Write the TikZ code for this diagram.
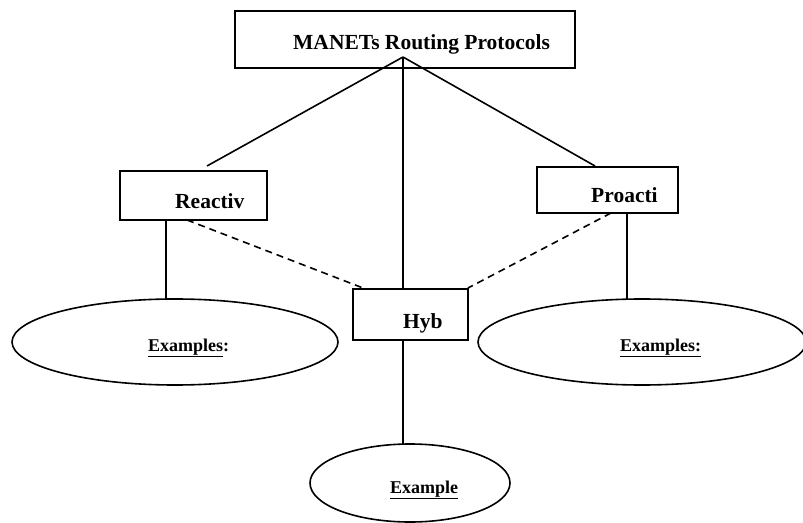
\documentclass[tikz,border=0pt]{standalone}
\usepackage{fontspec}
\setmainfont{Liberation Serif}
\usetikzlibrary{shapes.geometric,calc}
\begin{document}
\begin{tikzpicture}[x=1bp,y=-1bp,
  box/.style={draw,line width=1.6bp,rectangle,inner sep=0,outer sep=0},
  oval/.style={draw,line width=1.6bp,ellipse,inner sep=0,outer sep=0},
  big/.style={font=\fontsize{21.5bp}{24bp}\selectfont\bfseries,inner sep=0,anchor=base west},
  small/.style={font=\fontsize{18bp}{21bp}\selectfont\bfseries,inner sep=0,anchor=base west},
  link/.style={line width=1.6bp},
  dlink/.style={line width=1.6bp,dash pattern=on 7bp off 5bp}]
\useasboundingbox (0,0) rectangle (803,523);
% boxes
\node[box,minimum width=340bp,minimum height=57bp] (top) at (405,39.5) {};
\node[box,minimum width=147bp,minimum height=49bp] (reac) at (193.5,195.5) {};
\node[box,minimum width=141bp,minimum height=46bp] (proa) at (607.5,190) {};
\node[box,minimum width=115bp,minimum height=51bp] (hyb) at (410.5,314.5) {};
% ellipses
\node[oval,minimum width=326bp,minimum height=86bp] (exl) at (175,342) {};
\node[oval,minimum width=328bp,minimum height=86bp] (exr) at (642,342) {};
\node[oval,minimum width=200bp,minimum height=78bp] (exb) at (410,483) {};
% texts
\node[big] (ttop) at (293,50) {MANETs Routing Protocols};
\node[big] (treac) at (175,209) {Reactiv};
\node[big] (tproa) at (591,203) {Proacti};
\node[big] (thyb) at (403,328) {Hyb};
\node[small] (texl) at (148,351) {\underline{Examples}:};
\node[small] (texr) at (620,351) {\underline{Examples:}};
\node[small] (texb) at (390,493) {\underline{Example}};
% connector points
\coordinate (apex) at (403,57);
\coordinate (rtop) at (207,166);
\coordinate (ptop) at (595,166);
% connectors
\draw[link] (apex) -- (rtop);
\draw[link] (apex) -- (ptop);
\draw[link] (apex) -- (apex |- hyb.north);
\draw[link] (hyb.south -| apex) -- (apex |- exb.north);
\draw[link] (reac.south -| 166,0) -- (166,299);
\draw[link] (proa.south -| 627,0) -- (627,300);
\draw[dlink] (reac.south -| 187,0) -- (363,288);
\draw[dlink] (proa.south -| 611,0) -- (468,288);
\end{tikzpicture}
\end{document}
